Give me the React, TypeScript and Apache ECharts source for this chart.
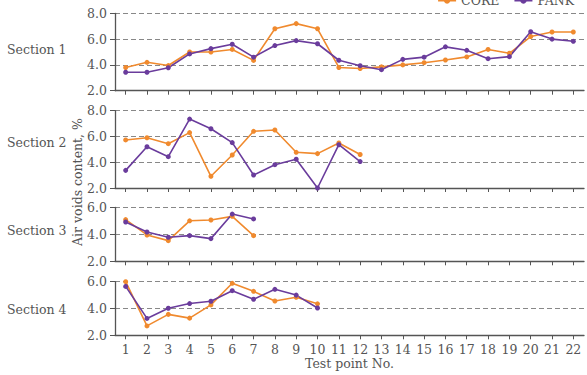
import React, { useEffect, useRef } from "react";
import * as echarts from "echarts";

const testPoints = ["1", "2", "3", "4", "5", "6", "7", "8", "9", "10", "11", "12", "13", "14", "15", "16", "17", "18", "19", "20", "21", "22"];

const s1Core = [3.8, 4.2, 3.95, 5.0, 5.0, 5.2, 4.35, 6.8, 7.2, 6.8, 3.8, 3.72, 3.85, 4.0, 4.17, 4.38, 4.62, 5.2, 4.9, 6.2, 6.55, 6.55];
const s1Pank = [3.43, 3.43, 3.78, 4.85, 5.26, 5.6, 4.6, 5.5, 5.88, 5.64, 4.36, 3.94, 3.63, 4.43, 4.6, 5.4, 5.13, 4.48, 4.64, 6.57, 6.0, 5.83];

const s2Core = [5.73, 5.9, 5.44, 6.3, 2.91, 4.56, 6.4, 6.5, 4.77, 4.67, 5.49, 4.6];
const s2Pank = [3.37, 5.2, 4.43, 7.35, 6.6, 5.52, 3.01, 3.81, 4.23, 2.0, 5.36, 4.05];

const s3Core = [5.09, 3.95, 3.53, 5.0, 5.06, 5.33, 3.9];
const s3Pank = [4.91, 4.17, 3.78, 3.9, 3.68, 5.5, 5.14];

const s4Core = [6.0, 2.7, 3.56, 3.28, 4.27, 5.88, 5.28, 4.56, 4.84, 4.35];
const s4Pank = [5.65, 3.26, 4.02, 4.37, 4.54, 5.33, 4.69, 5.43, 5.0, 4.04];

const sectionLabels = ["Section 1", "Section 2", "Section 3", "Section 4"];
const yMax = [8, 8, 6, 6];

const ORANGE = "#F08A2E";
const PURPLE = "#6A3C9C";
const FONT = "DejaVu Serif";
const TXT = "#555";
const AXIS = "#555";

export default function App() {
  const ref = useRef<HTMLDivElement>(null);
  useEffect(() => {
    const chart = echarts.init(ref.current!, null, { renderer: "svg" });
    const grids = [
      { top: 13.3, height: 77.4 },
      { top: 110.7, height: 77.3 },
      { top: 207.3, height: 54 },
      { top: 281.7, height: 53.6 },
    ].map((g) => ({ left: 115, right: 3, top: g.top, height: g.height }));
    const labelY = [51, 143.5, 232, 310.5];
    const coreData = [s1Core, s2Core, s3Core, s4Core];
    const pankData = [s1Pank, s2Pank, s3Pank, s4Pank];

    const xAxis = grids.map((_, i) => ({
      type: "category",
      gridIndex: i,
      data: testPoints,
      boundaryGap: true,
      axisLine: { show: true, lineStyle: { color: AXIS, width: 1.3 } },
      axisTick: { show: true, alignWithLabel: true, length: 4, lineStyle: { color: AXIS, width: 1 } },
      axisLabel: {
        show: i === 3,
        interval: 0,
        fontFamily: FONT,
        fontSize: 12.5,
        color: TXT,
        margin: 8,
      },
      splitLine: { show: false },
      name: i === 3 ? "Test point No." : "",
      nameLocation: "middle",
      nameGap: 22,
      nameTextStyle: { fontFamily: FONT, fontSize: 12.5, color: TXT },
    }));

    const yAxis = grids.map((_, i) => ({
      type: "value",
      gridIndex: i,
      min: 2,
      max: yMax[i],
      interval: 2,
      axisLine: { show: true, lineStyle: { color: AXIS, width: 1.3 } },
      axisTick: { show: true, length: 5, lineStyle: { color: AXIS, width: 1 } },
      axisLabel: {
        fontFamily: FONT,
        fontSize: 12.5,
        color: TXT,
        margin: 8,
        formatter: (v: number) => v.toFixed(1),
      },
      splitLine: { show: true, lineStyle: { color: "#888", width: 1, type: [5, 3] } },
    }));

    const series: any[] = [];
    grids.forEach((_, i) => {
      series.push({
        name: "CORE",
        type: "line",
        xAxisIndex: i,
        yAxisIndex: i,
        data: coreData[i],
        symbol: "circle",
        symbolSize: 5,
        lineStyle: { color: ORANGE, width: 1.6 },
        itemStyle: { color: ORANGE },
      });
      series.push({
        name: "PANK",
        type: "line",
        xAxisIndex: i,
        yAxisIndex: i,
        data: pankData[i],
        symbol: "circle",
        symbolSize: 5,
        lineStyle: { color: PURPLE, width: 1.6 },
        itemStyle: { color: PURPLE },
      });
    });

    chart.setOption({
      animation: false,
      backgroundColor: "#fff",
      grid: grids,
      xAxis,
      yAxis,
      legend: {
        data: ["CORE", "PANK"],
        top: -11,
        right: 8,
        itemWidth: 18,
        itemHeight: 8,
        itemGap: 14,
        textStyle: { fontFamily: FONT, fontSize: 12.5, color: TXT },
      },
      graphic: [
        ...sectionLabels.map((t, i) => ({
          type: "text",
          left: 7,
          top: labelY[i] - 8,
          style: { text: t, fontFamily: FONT, fontSize: 12.5, fill: TXT },
        })),
        {
          type: "text",
          x: 77,
          y: 182,
          rotation: Math.PI / 2,
          style: {
            text: "Air voids content, %",
            fontFamily: FONT,
            fontSize: 12.5,
            fill: TXT,
            align: "center",
            verticalAlign: "middle",
          },
        },
      ],
      series,
    });
    return () => chart.dispose();
  }, []);
  return <div ref={ref} style={{ position: "absolute", left: 0, top: 0, width: 587, height: 375 }} />;
}
